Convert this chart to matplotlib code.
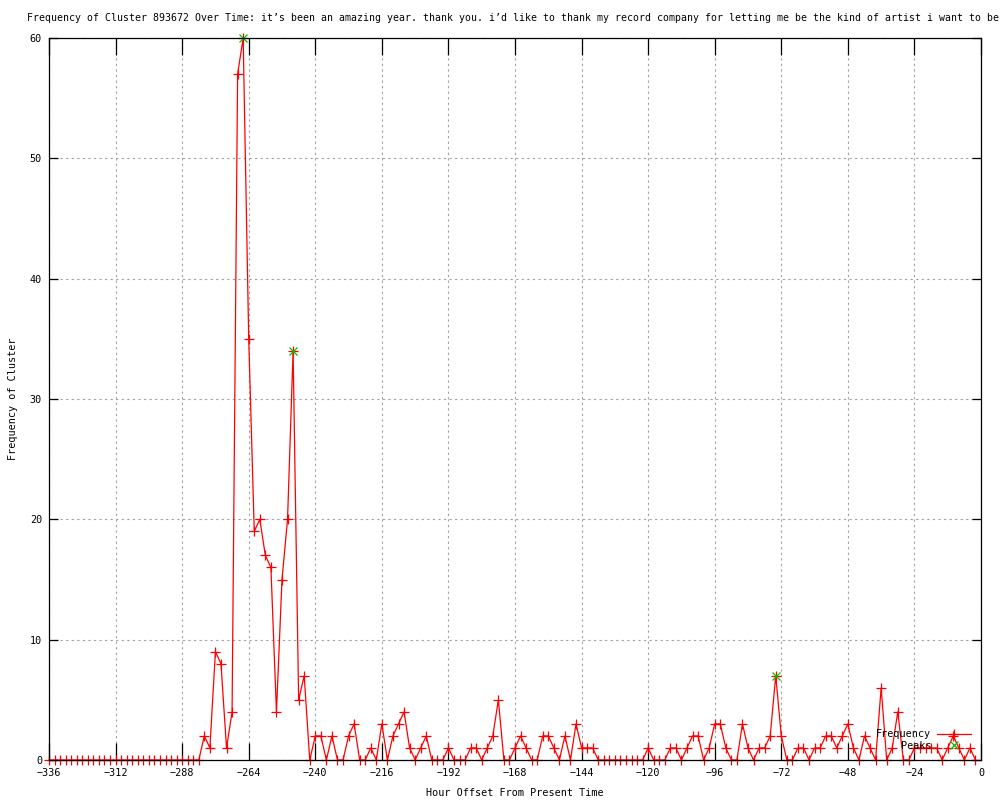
import matplotlib
matplotlib.use('Agg')
import matplotlib.pyplot as plt

# hourly buckets, one every 2 hours, from -336 up to -2
hours = list(range(-336, 0, 2))
counts = [
    0, 0, 0, 0, 0, 0, 0, 0, 0, 0, 0, 0, 0, 0, 0, 0, 0, 0, 0, 0, 0, 0, 0, 0, 0, 0, 0, 0,  # -336..-282
    2, 1, 9, 8, 1, 4, 57, 60, 35, 19,       # -280..-262
    20, 17, 16, 4, 15, 20, 34, 5, 7, 0,     # -260..-242
    2, 2, 0, 2, 0, 0, 2, 3, 0, 0,           # -240..-222
    1, 0, 3, 0, 2, 3, 4, 1, 0, 1,           # -220..-202
    2, 0, 0, 0, 1, 0, 0, 0, 1, 1,           # -200..-182
    0, 1, 2, 5, 0, 0, 1, 2, 1, 0,           # -180..-162
    0, 2, 2, 1, 0, 2, 0, 3, 1, 1,           # -160..-142
    1, 0, 0, 0, 0, 0, 0, 0, 0, 0,           # -140..-122
    1, 0, 0, 0, 1, 1, 0, 1, 2, 2,           # -120..-102
    0, 1, 3, 3, 1, 0, 0, 3, 1, 0,           # -100..-82
    1, 1, 2, 7, 2, 0, 0, 1, 1, 0,           # -80..-62
    1, 1, 2, 2, 1, 2, 3, 1, 0, 2,           # -60..-42
    1, 0, 6, 0, 1, 4, 0, 0, 1, 1,           # -40..-22
    1, 1, 1, 0, 1, 2, 1, 0, 1, 0,           # -20..-2
]

peak_hours = [-266, -248, -74]
peak_counts = [60, 34, 7]

xticks = list(range(-336, 1, 24))
yticks = [0, 10, 20, 30, 40, 50, 60]

title = ("Frequency of Cluster 893672 Over Time: it\u2019s been an amazing year. thank you. "
         "i\u2019d like to thank my record company for letting me be the kind of artist i want to be")

plt.rcParams['font.family'] = ['DejaVu Sans Mono']
fs = 7.3

fig = plt.figure(figsize=(10, 8), dpi=100)
ax = fig.add_axes([0.049, 0.05, 0.932, 0.9025])

ax.plot(hours, counts, color='red', lw=0.9, marker='+', ms=6.5, mew=0.9,
        label='Frequency', zorder=3, clip_on=False)
ax.plot(peak_hours, peak_counts, ls='none', color='#00c000', marker='x', ms=5.5,
        mew=0.9, label='Peaks', zorder=4, clip_on=False)

ax.set_xlim(-336, 0)
ax.set_ylim(0, 60)
ax.set_xticks(xticks)
ax.set_yticks(yticks)
ax.grid(True, color='#a0a0a0', ls=(0, (2, 3)), lw=0.8)
ax.tick_params(axis='x', direction='in', length=12, width=0.9, top=True,
               labelsize=fs, pad=6)
ax.tick_params(axis='y', direction='in', length=6.5, width=0.9, right=True,
               labelsize=fs, pad=5)
for s in ax.spines.values():
    s.set_linewidth(0.9)
    s.set_zorder(5)

ax.set_xlabel('Hour Offset From Present Time', fontsize=fs)
ax.set_ylabel('Frequency of Cluster', fontsize=fs)
ax.xaxis.set_label_coords(0.5, -0.039)
ax.yaxis.set_label_coords(-0.033, 0.5)

fig.text(0.513, 0.978, title, ha='center', va='center', fontsize=7.1)

leg = ax.legend(loc='lower right', bbox_to_anchor=(0.989, 0.013), frameon=False,
                markerfirst=False, fontsize=fs, handlelength=3.3,
                handletextpad=0.6, labelspacing=0.15, borderpad=0,
                borderaxespad=0)

fig.savefig('out.png', dpi=100)
